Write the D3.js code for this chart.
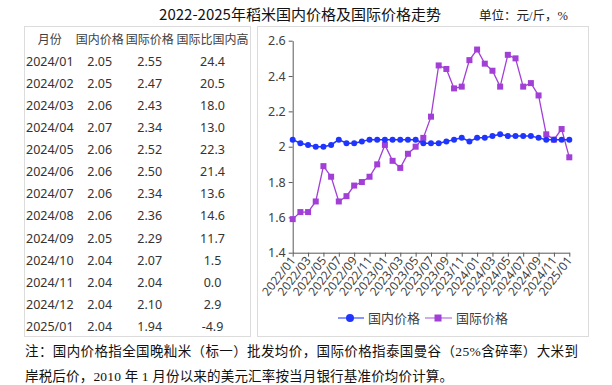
<!DOCTYPE html>
<html>
<head>
<meta charset="utf-8">
<script src="https://cdn.jsdelivr.net/npm/d3@7/dist/d3.min.js"></script>
<style>
  body { margin: 0; background: #fff; }
  svg { display: block; }
</style>
</head>
<body>
<div id="chart"></div>
<script>
const width = 612;
const height = 385;

// table data
const tableMonths = ["2024/01", "2024/02", "2024/03", "2024/04", "2024/05", "2024/06", "2024/07",
  "2024/08", "2024/09", "2024/10", "2024/11", "2024/12", "2025/01"];
const tableDomestic = ["2.05", "2.05", "2.06", "2.07", "2.06", "2.06", "2.06", "2.06", "2.05", "2.04", "2.04", "2.04", "2.04"];
const tableIntl = ["2.55", "2.47", "2.43", "2.34", "2.52", "2.50", "2.34", "2.36", "2.29", "2.07", "2.04", "2.10", "1.94"];
const tableGap = ["24.4", "20.5", "18.0", "13.0", "22.3", "21.4", "13.6", "14.6", "11.7", "1.5", "0.0", "2.9", "-4.9"];
const tableHeaders = ["月份", "国内价格", "国际价格", "国际比国内高"];

// chart data, 2022/01 - 2025/01
const months = [];
for (let y = 2022; y <= 2025; y++) {
  for (let m = 1; m <= 12; m++) {
    if (y === 2025 && m > 1) break;
    months.push(`${y}/${String(m).padStart(2, "0")}`);
  }
}
const domestic = [2.04, 2.02, 2.01, 2.00, 2.00, 2.01, 2.04, 2.02, 2.02, 2.03, 2.04, 2.04,
  2.04, 2.04, 2.04, 2.04, 2.04, 2.02, 2.02, 2.02, 2.03, 2.04, 2.05, 2.03,
  2.05, 2.05, 2.06, 2.07, 2.06, 2.06, 2.06, 2.06, 2.05, 2.04, 2.04, 2.04, 2.04];
const international = [1.59, 1.63, 1.63, 1.69, 1.89, 1.83, 1.69, 1.72, 1.78, 1.80, 1.83, 1.90,
  2.01, 1.92, 1.88, 1.96, 2.00, 2.05, 2.17, 2.46, 2.44, 2.33, 2.34, 2.49,
  2.55, 2.47, 2.43, 2.34, 2.52, 2.50, 2.34, 2.36, 2.29, 2.07, 2.04, 2.10, 1.94];
const yTicks = [1.4, 1.6, 1.8, 2, 2.2, 2.4, 2.6];

const blue = "#1f35ff";
const purple = "#a23fd6";
const sans = "'Noto Sans', 'Noto Sans CJK SC', sans-serif";
const serif = "'Liberation Serif', 'Noto Sans CJK SC', serif";

const svg = d3.select("#chart").append("svg")
  .attr("width", width)
  .attr("height", height);

// Title
svg.append("text")
  .attr("x", 300).attr("y", 20)
  .attr("text-anchor", "middle")
  .style("font-family", "'Noto Sans CJK SC', sans-serif")
  .style("font-size", "15px")
  .attr("fill", "#111")
  .text("2022-2025年稻米国内价格及国际价格走势");

svg.append("text")
  .attr("x", 479).attr("y", 20)
  .style("font-family", serif)
  .style("font-size", "12.5px")
  .attr("fill", "#222")
  .text("单位：元/斤，%");

// Table
const table = svg.append("g");
table.append("rect")
  .attr("x", 24.5).attr("y", 26.5)
  .attr("width", 226).attr("height", 310)
  .attr("fill", "none")
  .attr("stroke", "#dcdcdc");

const colX = [49.7, 99.7, 149.7, 212.5];
table.selectAll("text.head")
  .data(tableHeaders)
  .join("text")
  .attr("class", "head")
  .attr("x", (d, i) => colX[i])
  .attr("y", 44)
  .attr("text-anchor", "middle")
  .style("font-family", sans)
  .style("font-size", "12px")
  .attr("fill", "#404040")
  .text((d) => d);

const rowY = d3.scaleLinear().domain([0, 12]).range([61, 326.5]);
const rows = table.selectAll("g.row")
  .data(tableMonths)
  .join("g")
  .attr("class", "row")
  .attr("transform", (d, i) => `translate(0,${rowY(i) + 4.5})`)
  .style("font-family", sans)
  .style("font-size", "12.5px")
  .attr("fill", "#333");

rows.append("text").attr("x", 26).text((d) => d);
rows.append("text").attr("x", colX[1]).attr("text-anchor", "middle").text((d, i) => tableDomestic[i]);
rows.append("text").attr("x", colX[2]).attr("text-anchor", "middle").text((d, i) => tableIntl[i]);
rows.append("text").attr("x", colX[3]).attr("text-anchor", "middle").text((d, i) => tableGap[i]);

// Chart box
svg.append("rect")
  .attr("x", 257.5).attr("y", 26.5)
  .attr("width", 331).attr("height", 310)
  .attr("fill", "none")
  .attr("stroke", "#dcdcdc");

const x = d3.scalePoint().domain(months).range([292.7, 569.3]);
const y = d3.scaleLinear().domain([1.4, 2.6]).range([252.7, 40.7]);

const yAxis = svg.append("g")
  .attr("transform", "translate(292.7,0)")
  .call(d3.axisLeft(y).tickValues(yTicks).tickFormat(d3.format("")).tickSize(4).tickSizeOuter(0));
yAxis.select(".domain").attr("stroke", "#595959");
yAxis.selectAll(".tick line").attr("stroke", "#595959");
yAxis.selectAll(".tick text")
  .style("font-family", sans)
  .style("font-size", "12.5px")
  .attr("fill", "#404040");

const xAxis = svg.append("g")
  .attr("transform", "translate(0,252.7)")
  .call(d3.axisBottom(x).tickValues(months.filter((d, i) => i % 2 === 0)).tickSize(4).tickSizeOuter(0));
xAxis.select(".domain").attr("stroke", "#595959");
xAxis.selectAll(".tick line").attr("stroke", "#595959");
xAxis.selectAll(".tick text")
  .style("font-family", sans)
  .style("font-size", "12px")
  .attr("fill", "#404040")
  .attr("text-anchor", "end")
  .attr("dy", null)
  .attr("y", 0)
  .attr("transform", "translate(3,8) rotate(-52)");

// Lines
const line = (vals) => d3.line().x((d, i) => x(months[i])).y((d) => y(d))(vals);

svg.append("path")
  .attr("d", line(international))
  .attr("fill", "none")
  .attr("stroke", purple)
  .attr("stroke-width", 1.3);
svg.append("g").selectAll("rect")
  .data(international)
  .join("rect")
  .attr("x", (d, i) => x(months[i]) - 3)
  .attr("y", (d) => y(d) - 3)
  .attr("width", 6).attr("height", 6)
  .attr("fill", purple);

svg.append("path")
  .attr("d", line(domestic))
  .attr("fill", "none")
  .attr("stroke", blue)
  .attr("stroke-width", 1.5);
svg.append("g").selectAll("circle")
  .data(domestic)
  .join("circle")
  .attr("cx", (d, i) => x(months[i]))
  .attr("cy", (d) => y(d))
  .attr("r", 3)
  .attr("fill", blue);

// Legend
const legend = svg.append("g").style("font-family", sans).style("font-size", "13px");
legend.append("line").attr("x1", 338).attr("x2", 364).attr("y1", 318).attr("y2", 318)
  .attr("stroke", blue).attr("stroke-width", 1.5).attr("opacity", 0.7);
legend.append("circle").attr("cx", 350).attr("cy", 318).attr("r", 4).attr("fill", blue);
legend.append("text").attr("x", 368).attr("y", 322.5).attr("fill", "#404040").text("国内价格");
legend.append("line").attr("x1", 425).attr("x2", 452).attr("y1", 318).attr("y2", 318)
  .attr("stroke", purple).attr("stroke-width", 1.5).attr("opacity", 0.6);
legend.append("rect").attr("x", 434.5).attr("y", 314.5).attr("width", 7).attr("height", 7).attr("fill", purple);
legend.append("text").attr("x", 456).attr("y", 322.5).attr("fill", "#404040").text("国际价格");

// Note
const note = svg.append("g")
  .style("font-family", serif)
  .style("font-size", "13.5px")
  .attr("fill", "#111");
note.append("text")
  .attr("x", 25).attr("y", 356)
  .attr("textLength", 553).attr("lengthAdjust", "spacing")
  .text("注：国内价格指全国晚籼米（标一）批发均价，国际价格指泰国曼谷（25%含碎率）大米到");
note.append("text")
  .attr("x", 25).attr("y", 381)
  .attr("textLength", 428).attr("lengthAdjust", "spacing")
  .text("岸税后价，2010 年 1 月份以来的美元汇率按当月银行基准价均价计算。");
</script>
</body>
</html>
